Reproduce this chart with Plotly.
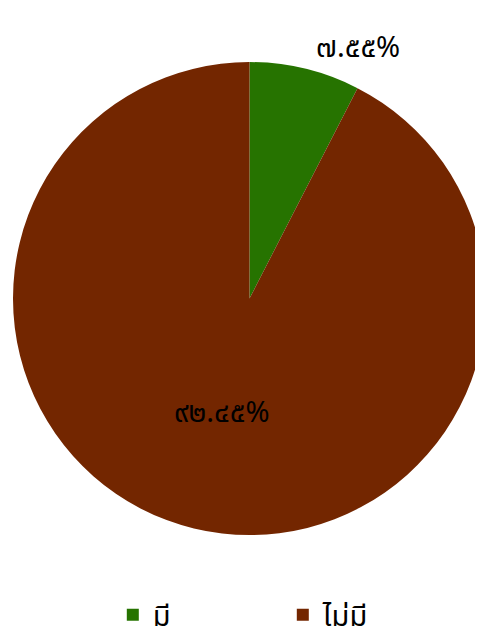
import plotly.graph_objects as go

labels = ["มี", "ไม่มี"]
values = [7.55, 92.45]
colors = ["#267300", "#732600"]
text_positions = ["outside", "inside"]

THAI_DIGITS = str.maketrans("0123456789", "๐๑๒๓๔๕๖๗๘๙")
texts = [(f"{v:.2f}%").translate(THAI_DIGITS) for v in values]

FONT = "Noto Sans Thai, Noto Sans Thai UI, Loma, Garuda, Noto Sans, sans-serif"

fig = go.Figure(
    go.Pie(
        labels=labels,
        values=values,
        text=texts,
        texttemplate="%{text}",
        textposition=text_positions,
        sort=False,
        direction="clockwise",
        rotation=0,
        marker=dict(colors=colors, line=dict(width=0)),
        textfont=dict(family=FONT, size=29, color="#000000"),
        insidetextorientation="horizontal",
        hoverinfo="label+percent",
        domain=dict(x=[0, 1], y=[0.175, 1.0]),
    )
)

fig.update_layout(
    width=483,
    height=636,
    margin=dict(l=3, r=0, t=0, b=0),
    paper_bgcolor="#ffffff",
    plot_bgcolor="#ffffff",
    showlegend=True,
    legend=dict(
        orientation="h",
        x=0.211,
        xanchor="left",
        y=0.006,
        yanchor="bottom",
        entrywidth=125,
        font=dict(family=FONT, size=29, color="#000000"),
    ),
)

fig.write_html("out.html")
